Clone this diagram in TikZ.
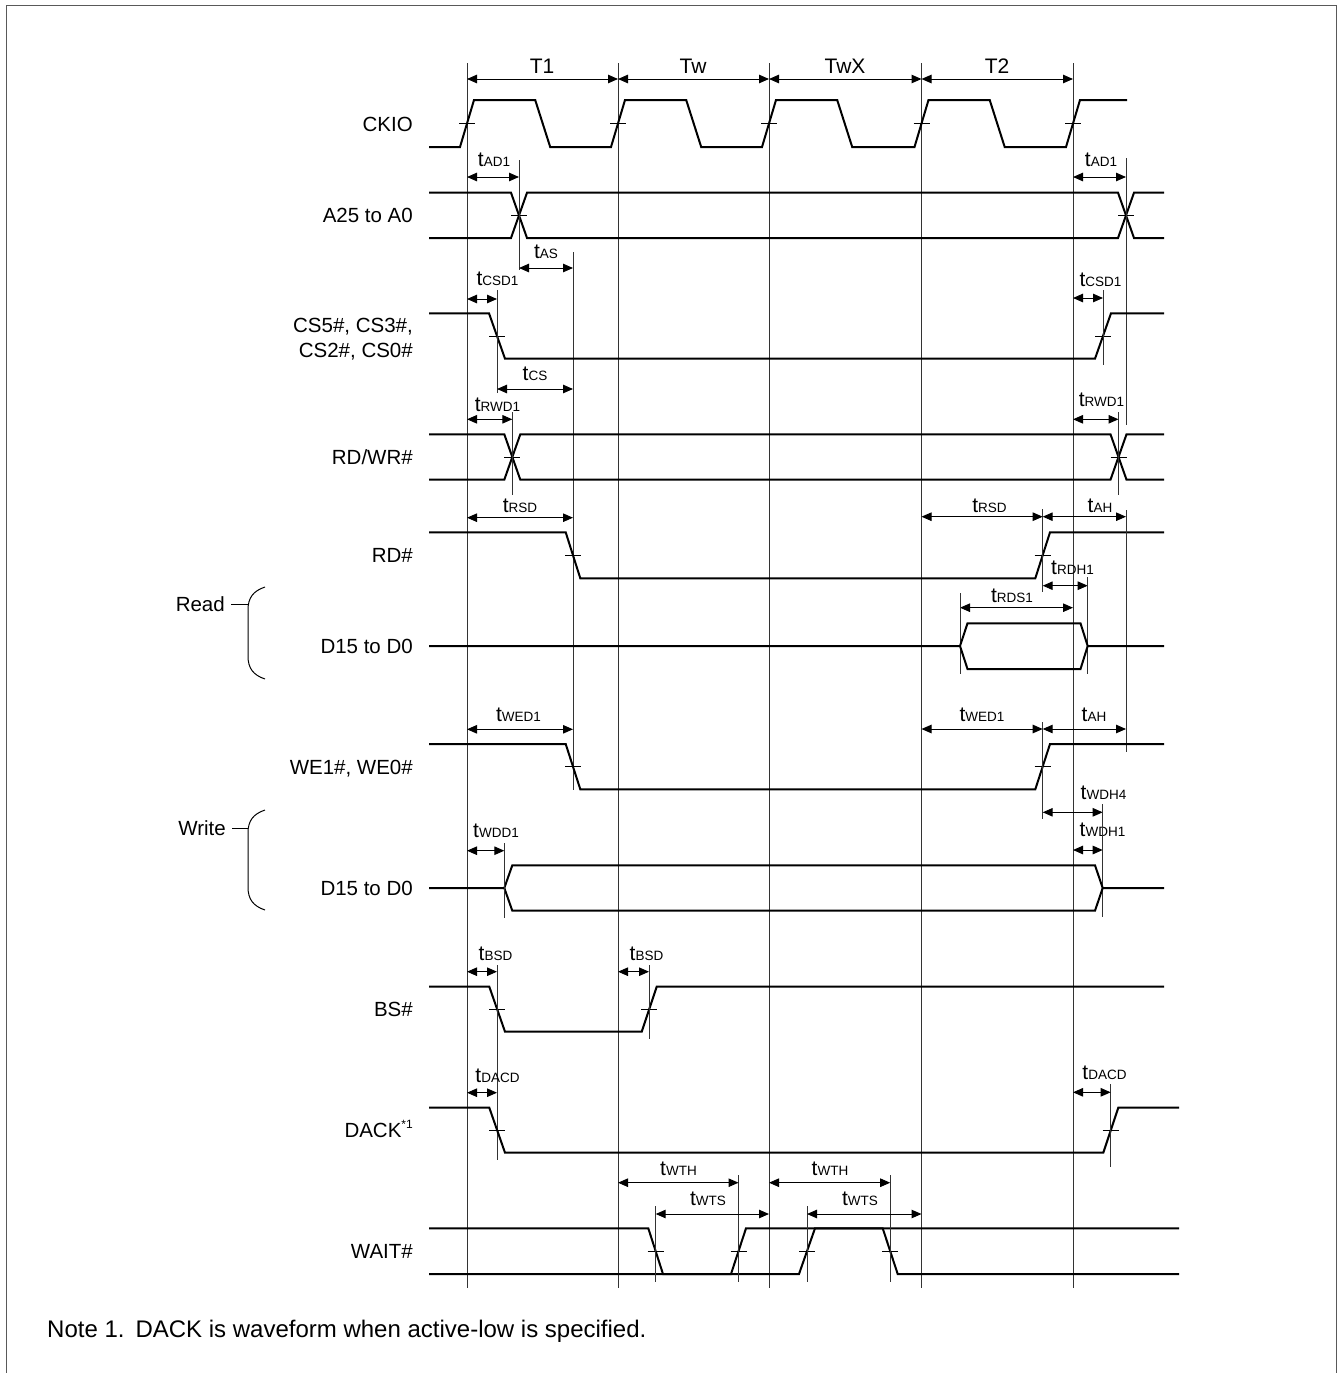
\documentclass[tikz,border=0pt]{standalone}
\usepackage{fontspec}
\setmainfont{Liberation Sans}
\usetikzlibrary{arrows.meta}
\newcommand{\subt}[1]{{\fontsize{13.5}{13.5}\selectfont #1}}
\newcommand{\tck}[2]{\draw[tickl] ({#1-8},#2) -- ({#1+8},#2);}
\newcommand{\dimar}[3]{\draw[dimline] (#1,#3) -- (#2,#3);}
\newcommand{\refv}[3]{\draw[refl] (#1,#2) -- (#1,#3);}
\newcommand{\tl}[4]{\node[tlabel] (#4) at (#1,#2) {t\subt{#3}};}
\begin{document}
\begin{tikzpicture}[x=1pt,y=-1pt,
  sig/.style={line width=2pt, line join=miter},
  refl/.style={line width=1pt, black!80},
  dimline/.style={line width=1pt, {Triangle[length=10pt,width=8.5pt]}-{Triangle[length=10pt,width=8.5pt]}},
  tickl/.style={line width=1pt},
  siglabel/.style={anchor=base east, inner sep=0pt, font=\fontsize{20.5}{25}\selectfont},
  tlabel/.style={anchor=base, inner sep=0pt, font=\fontsize{21}{24}\selectfont},
  frame/.style={line width=1.6pt, black!65}
]
\useasboundingbox (0,0) rectangle (1343,1373);
% frame
\draw[frame] (6.5,1373) -- (6.5,5.5) -- (1336.5,5.5) -- (1336.5,1373);

% reference verticals (clock edges)
\foreach \x in {467,618,769,921.5,1073} { \refv{\x}{63}{1288} }
% period arrows
\dimar{467}{618}{79} \dimar{618}{769}{79} \dimar{769}{921.5}{79} \dimar{921.5}{1073}{79}
\node[tlabel] (lt1) at (542,73) {T1};
\node[tlabel] (ltw) at (693,73) {Tw};
\node[tlabel] (ltwx) at (845,73) {TwX};
\node[tlabel] (lt2) at (997,73) {T2};

% signal labels
\node[siglabel] (nckio) at (413,131.5) {CKIO};
\node[siglabel] (na) at (413,222.5) {A25 to A0};
\node[siglabel] (ncs1) at (413,332.5) {CS5\#, CS3\#,};
\node[siglabel] (ncs2) at (413,357.5) {CS2\#, CS0\#};
\node[siglabel] (nrdwr) at (413,464.5) {RD/WR\#};
\node[siglabel] (nrd) at (413,562) {RD\#};
\node[siglabel] (nd1) at (413,653.5) {D15 to D0};
\node[siglabel] (nwe) at (413,774) {WE1\#, WE0\#};
\node[siglabel] (nd2) at (413,895.5) {D15 to D0};
\node[siglabel] (nbs) at (413,1016.5) {BS\#};
\node[siglabel] (ndack) at (413,1137.5) {DACK\raisebox{9pt}{\fontsize{12}{12}\selectfont *1}};
\node[siglabel] (nwait) at (413,1258.5) {WAIT\#};

% Read / Write braces
\node[siglabel] (nread) at (225,611.5) {Read};
\draw[line width=1pt] (231,604) -- (248,604);
\draw[line width=1pt] (265,587) .. controls (253,591) and (248,598) .. (248,610) -- (248,656) .. controls (248,668) and (253,675) .. (265,679);
\node[siglabel] (nwrite) at (226,835.5) {Write};
\draw[line width=1pt] (232,828) -- (248,828);
\draw[line width=1pt] (265,810) .. controls (253,814) and (248,821) .. (248,833) -- (248,887) .. controls (248,899) and (253,906) .. (265,910);

% ---------------- CKIO
\draw[sig] (429,147) -- (460,147) -- (474,100) -- (535.2,100) -- (550.2,147)
  -- (611,147) -- (625,100) -- (686.2,100) -- (701.2,147)
  -- (762,147) -- (776,100) -- (837.2,100) -- (852.2,147)
  -- (914.5,147) -- (928.5,100) -- (989.7,100) -- (1004.7,147)
  -- (1066,147) -- (1080,100) -- (1127,100);
\foreach \x in {467,618,769,921.5,1073} { \tck{\x}{123.5} }

% ---------------- A25 to A0
\draw[sig] (429,192.7) -- (511,192.7) -- (527,238) -- (1118,238) -- (1134,192.7) -- (1164,192.7);
\draw[sig] (429,238) -- (511,238) -- (527,192.7) -- (1118,192.7) -- (1134,238) -- (1164,238);
\tck{519}{215.4} \tck{1126}{215.4}
\refv{519}{160}{270} \refv{1126}{158}{425}
\dimar{467}{519}{177} \tl{494}{166}{AD1}{ltad1}
\dimar{1073}{1126}{177} \tl{1101}{166}{AD1}{ltad1b}
\dimar{519}{573}{268} \tl{546}{258}{AS}{ltas}
\refv{573}{252}{790}

% ---------------- CS
\draw[sig] (429,313.3) -- (489,313.3) -- (505,358.7) -- (1095,358.7) -- (1111,313.3) -- (1164,313.3);
\tck{497}{336} \tck{1103}{336}
\refv{497}{290}{393} \refv{1103}{290}{365}
\dimar{467}{497}{299} \tl{497.5}{285}{CSD1}{ltcsd}
\dimar{1073}{1103}{298} \tl{1100.5}{286}{CSD1}{ltcsdb}
\dimar{497}{573}{389} \tl{535}{380.5}{CS}{ltcs}

% ---------------- RD/WR#
\draw[sig] (429,434.3) -- (504.3,434.3) -- (520.3,479.7) -- (1110.5,479.7) -- (1126.5,434.3) -- (1164,434.3);
\draw[sig] (429,479.7) -- (504.3,479.7) -- (520.3,434.3) -- (1110.5,434.3) -- (1126.5,479.7) -- (1164,479.7);
\tck{512.3}{457} \tck{1118.5}{457}
\refv{512.3}{412}{495} \refv{1118.5}{412}{495}
\dimar{467}{512.3}{419.3} \tl{497.5}{411}{RWD1}{ltrwd}
\dimar{1073}{1118.5}{419.3} \tl{1101.5}{406}{RWD1}{ltrwdb}

% ---------------- RD#
\draw[sig] (429,532.3) -- (565.7,532.3) -- (580.3,578.3) -- (1035.3,578.3) -- (1050,532.3) -- (1164,532.3);
\tck{573}{555.3} \tck{1042.7}{555.3}
\refv{1042.7}{509}{592}
\refv{1126}{510}{752}
\dimar{467}{573}{517.7} \tl{520}{512}{RSD}{ltrsd}
\dimar{921.5}{1042.7}{516.7} \tl{989.5}{512}{RSD}{ltrsdb}
\dimar{1042.7}{1126}{516.7} \tl{1100}{512}{AH}{ltah}
\dimar{1042.7}{1087.7}{585.7} \tl{1072.5}{574}{RDH1}{ltrdh}
\dimar{960}{1073}{607.7} \tl{1012}{602.7}{RDS1}{ltrds}
\refv{1087.7}{577}{674} \refv{960}{593}{674}

% ---------------- D15 to D0 (read)
\draw[sig] (429,646) -- (960,646) -- (967.5,623.3) -- (1080.5,623.3) -- (1087.7,646) -- (1164,646);
\draw[sig] (960,646) -- (967.5,669) -- (1080.5,669) -- (1087.7,646);

% ---------------- WE1#, WE0#
\draw[sig] (429,744) -- (565.7,744) -- (580.3,789.3) -- (1035.3,789.3) -- (1050,744) -- (1164,744);
\tck{573}{766.7} \tck{1042.7}{766.7}
\refv{1042.7}{722}{819}
\dimar{467}{573}{729.3} \tl{518.5}{721}{WED1}{ltwed}
\dimar{921.5}{1042.7}{729} \tl{982}{721}{WED1}{ltwedb}
\dimar{1042.7}{1126}{729} \tl{1094}{721}{AH}{ltahb}
\dimar{1042.7}{1102.7}{812.3} \tl{1103.5}{799}{WDH4}{ltwdh4}
\dimar{1073}{1102.7}{850} \tl{1102.5}{836.7}{WDH1}{ltwdh1}
\refv{1102.7}{804}{917}

% ---------------- D15 to D0 (write)
\draw[sig] (429,888) -- (504.3,888) -- (512.3,865.3) -- (1095,865.3) -- (1102.7,888) -- (1164,888);
\draw[sig] (504.3,888) -- (512.3,910.7) -- (1095,910.7) -- (1102.7,888);
\refv{504.3}{843}{918}
\dimar{467}{504.3}{850.7} \tl{496}{837.7}{WDD1}{ltwdd}

% ---------------- BS#
\draw[sig] (429,986.7) -- (489.3,986.7) -- (505,1031.7) -- (641.7,1031.7) -- (656.7,986.7) -- (1164,986.7);
\tck{497}{1009.2} \tck{649}{1009.2}
\refv{497}{965}{1160} \refv{649}{965}{1039}
\dimar{467}{497}{971.7} \tl{495.5}{960}{BSD}{ltbsd}
\dimar{618}{649}{971.7} \tl{646.5}{960}{BSD}{ltbsdb}

% ---------------- DACK
\draw[sig] (429,1107.7) -- (489.3,1107.7) -- (505,1152.7) -- (1103.3,1152.7) -- (1118.3,1107.7) -- (1179,1107.7);
\tck{497}{1130.2} \tck{1110.7}{1130.2}
\refv{1110.7}{1084}{1167}
\dimar{467}{497}{1092.7} \tl{497.5}{1082.7}{DACD}{ltdacd}
\dimar{1073}{1110.7}{1092.3} \tl{1104.5}{1079}{DACD}{ltdacdb}

% ---------------- WAIT#
\draw[sig] (429,1228.3) -- (648.3,1228.3) -- (663,1274) -- (731,1274) -- (746,1228.3) -- (1179,1228.3);
\draw[sig] (429,1274) -- (799,1274) -- (815,1228.3) -- (882.7,1228.3) -- (897.7,1274) -- (1179,1274);
\tck{655.7}{1251.2} \tck{738.5}{1251.2} \tck{807}{1251.2} \tck{890.2}{1251.2}
\refv{655.7}{1206}{1282} \refv{738.5}{1175}{1282} \refv{807}{1206}{1282} \refv{890.2}{1175}{1282}
\dimar{618}{738.5}{1182.7} \tl{678.5}{1175}{WTH}{ltwth}
\dimar{655.7}{769}{1214} \tl{708}{1205}{WTS}{ltwts}
\dimar{769}{890.2}{1182.7} \tl{830}{1175}{WTH}{ltwthb}
\dimar{807}{921.5}{1214} \tl{860}{1205}{WTS}{ltwtsb}

% note
\node[anchor=base west, inner sep=0pt, font=\fontsize{24}{28}\selectfont] (note) at (47,1337) {Note 1.\hspace{11pt}DACK is waveform when active-low is specified.};
\end{tikzpicture}
\end{document}
